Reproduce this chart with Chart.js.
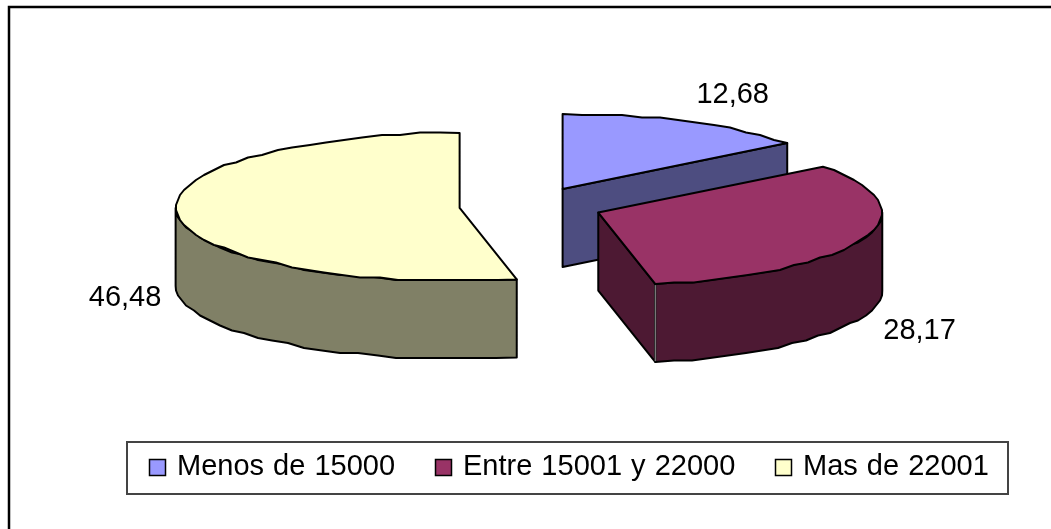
<!DOCTYPE html>
<html>
<head>
<meta charset="utf-8">
<script src="https://cdn.jsdelivr.net/npm/chart.js@4"></script>
<style>
  html, body { margin: 0; padding: 0; background: #fff; }
  #wrap { position: relative; width: 1051px; height: 529px; overflow: hidden; }
</style>
</head>
<body>
<div id="wrap"><canvas id="incomePie" width="1051" height="529"></canvas></div>
<script>
// Income brackets
const labels = ["Menos de 15000", "Entre 15001 y 22000", "Mas de 22001"];
const values = [12.68, 28.17, 46.48];
const topColors = ["#9999FF", "#993366", "#FFFFCC"];
const sideColors = ["#4D4D80", "#4D1933", "#808066"];

// Tilted pie geometry, in page pixels. The back of the rim reaches a little further than the front.
const pie = { cx: 531, cy: 206, rx: 284, ryBack: 75, ryFront: 73, depth: 78, explode: 72 / 285 };
const labelShift = [[45, -27], [55, 93], [-52, 83]];
const FONT = '29px "Liberation Sans", Arial, sans-serif';

function rimY(c, a) {
  const s = Math.sin(a);
  return c.y + (s < 0 ? pie.ryBack : pie.ryFront) * s;
}

// Curve vertices sit on a coarse pixel grid, which gives the rim its slight wobble
function rimPoints(a0, a1, c, dy) {
  const pts = [];
  const n = Math.max(1, Math.round((a1 - a0) / (4 * Math.PI / 180)));
  for (let i = 0; i <= n; i++) {
    const a = a0 + (a1 - a0) * i / n;
    let x = c.x + pie.rx * Math.cos(a);
    let y = rimY(c, a);
    if (i > 0 && i < n) { x = Math.round(x / 2) * 2; y = Math.round(y / 2.5) * 2.5; }
    pts.push([x, y + dy]);
  }
  return pts;
}

function fillPath(ctx, pts, fill) {
  ctx.beginPath();
  pts.forEach((p, i) => i ? ctx.lineTo(p[0], p[1]) : ctx.moveTo(p[0], p[1]));
  ctx.closePath();
  ctx.fillStyle = fill;
  ctx.fill();
  ctx.stroke();
}

const tiltedPie = {
  id: "tiltedPie",
  beforeDatasetsDraw(chart) {
    const ctx = chart.ctx;
    const arcs = chart.getDatasetMeta(0).data;
    ctx.save();
    ctx.lineWidth = 2;
    ctx.lineJoin = "round";
    ctx.strokeStyle = "#000";

    arcs.forEach((arc, i) => {
      const a0 = arc.startAngle, a1 = arc.endAngle, mid = (a0 + a1) / 2;
      const c = {
        x: pie.cx + Math.cos(mid) * pie.explode * pie.rx,
        y: pie.cy + Math.sin(mid) * pie.explode * pie.ryBack
      };
      const edge = a => [c.x + pie.rx * Math.cos(a), rimY(c, a)];
      const wall = (a) => {
        const e = edge(a);
        fillPath(ctx, [[c.x, c.y], e, [e[0], e[1] + pie.depth], [c.x, c.y + pie.depth]], sideColors[i]);
      };

      // cut faces that turn towards the viewer
      const frontCut = Math.cos(a1) > 0.001;
      if (Math.cos(a0) < -0.001) wall(a0);
      if (frontCut) wall(a1);

      // outer wall, only the front half of the rim shows
      const from = Math.max(a0, 0), to = Math.min(a1, Math.PI);
      if (to > from) {
        const rim = rimPoints(from, to, c, 0);
        const low = rimPoints(from, to, c, pie.depth).reverse();
        fillPath(ctx, rim.concat(low), sideColors[i]);
        // pale seam where the cut face meets the outer wall
        if (frontCut) {
          const e = edge(a1);
          ctx.save();
          ctx.strokeStyle = "#777";
          ctx.lineWidth = 1.5;
          ctx.beginPath();
          ctx.moveTo(e[0], e[1] + 1);
          ctx.lineTo(e[0], e[1] + pie.depth - 1);
          ctx.stroke();
          ctx.restore();
        }
      }

      // top face
      fillPath(ctx, [[c.x, c.y]].concat(rimPoints(a0, a1, c, 0)), topColors[i]);

      // value label
      const e = edge(mid);
      ctx.font = FONT;
      ctx.fillStyle = "#000";
      ctx.textAlign = "center";
      ctx.textBaseline = "middle";
      ctx.fillText(values[i].toFixed(2).replace(".", ","), e[0] + labelShift[i][0], e[1] + labelShift[i][1]);
    });
    ctx.restore();
    return false;
  },
  afterDraw(chart) {
    const ctx = chart.ctx;
    ctx.save();

    // outer frame
    ctx.strokeStyle = "#000";
    ctx.lineWidth = 2.5;
    ctx.beginPath();
    ctx.moveTo(9, 529);
    ctx.lineTo(9, 7);
    ctx.lineTo(1051, 7);
    ctx.stroke();

    // legend box
    ctx.strokeStyle = "#444";
    ctx.lineWidth = 2;
    ctx.strokeRect(127, 442, 881, 52);

    ctx.font = FONT;
    ctx.wordSpacing = "1px";
    ctx.textBaseline = "middle";
    ctx.textAlign = "left";
    let x = 149.5;
    labels.forEach((name, i) => {
      ctx.fillStyle = topColors[i];
      ctx.strokeStyle = "#000";
      ctx.lineWidth = 1.5;
      ctx.fillRect(x, 459.5, 16, 16);
      ctx.strokeRect(x, 459.5, 16, 16);
      ctx.fillStyle = "#000";
      ctx.fillText(name, x + 27.5, 467);
      x = Math.round(x + 27.5 + ctx.measureText(name).width + 40) + 0.5;
    });
    ctx.restore();
  }
};

new Chart(document.getElementById("incomePie"), {
  type: "pie",
  data: {
    labels: labels,
    datasets: [{ data: values, backgroundColor: topColors }]
  },
  options: {
    responsive: false,
    animation: false,
    plugins: { legend: { display: false }, tooltip: { enabled: false } }
  },
  plugins: [tiltedPie]
});
</script>
</body>
</html>
